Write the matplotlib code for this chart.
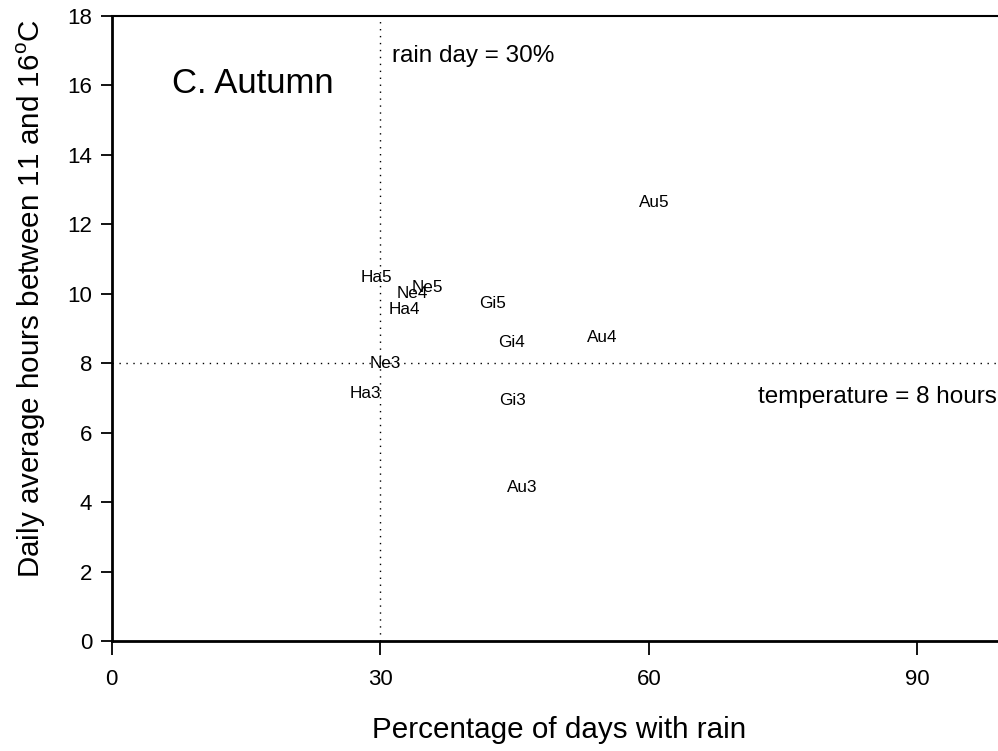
import matplotlib.pyplot as plt

plt.rcParams['font.family'] = ['Liberation Sans', 'DejaVu Sans']
plt.rcParams['mathtext.fontset'] = 'custom'
plt.rcParams['mathtext.rm'] = 'Liberation Sans'

# site/period codes with rain percentage and hours in the 11-16 C band
codes = ['Ha5', 'Ne5', 'Ne4', 'Ha4', 'Gi5', 'Gi4', 'Au4', 'Au5', 'Gi3', 'Au3', 'Ne3', 'Ha3']
rain_pct = [29.6, 35.2, 33.6, 32.7, 42.5, 44.6, 54.8, 60.6, 44.8, 45.8, 30.6, 28.3]
hours = [10.48, 10.17, 10.02, 9.56, 9.73, 8.61, 8.73, 12.64, 6.94, 4.41, 8.0, 7.14]

rain_threshold = 30
hours_threshold = 8

W, H = 998, 751
fig = plt.figure(figsize=(W / 100, H / 100), dpi=100)
# right end of the x axis (100 %) runs just past the figure edge
ax = fig.add_axes([111.7 / W, 1 - 641 / H, (1007 - 111.7) / W, (641 - 16) / H])

ax.set_xlim(0, 100)
ax.set_ylim(0, 18)

for x, y, s in zip(rain_pct, hours, codes):
    ax.text(x, y, s, fontsize=12.3, ha='center', va='center')

ax.axvline(rain_threshold, color='black', lw=1, ls=(0, (1, 4)))
ax.axhline(hours_threshold, color='black', lw=1, ls=(0, (1, 4)))

ax.text(31.3, 16.68, 'rain day = 30%', fontsize=17.5, ha='left', va='baseline')
ax.text(98.9, 6.86, 'temperature = 8 hours', fontsize=17.5, ha='right', va='baseline')
ax.text(6.7, 15.78, 'C. Autumn', fontsize=25, ha='left', va='baseline')

ax.set_xticks([0, 30, 60, 90])
ax.set_yticks(range(0, 19, 2))
ax.tick_params(axis='both', labelsize=16, width=1.3, direction='out')
ax.tick_params(axis='y', length=8, pad=6)
ax.tick_params(axis='x', length=10, pad=10)

ax.spines['right'].set_visible(False)
ax.spines['left'].set_linewidth(2)
ax.spines['bottom'].set_linewidth(2)
ax.spines['top'].set_linewidth(1.5)

ax.set_xlabel('Percentage of days with rain', fontsize=21.3, labelpad=19)
ax.set_ylabel('Daily average hours between 11 and 16$^{\\rm o}$C', fontsize=21.3,
              labelpad=14, y=0.547)

fig.savefig('out.png', dpi=100)
